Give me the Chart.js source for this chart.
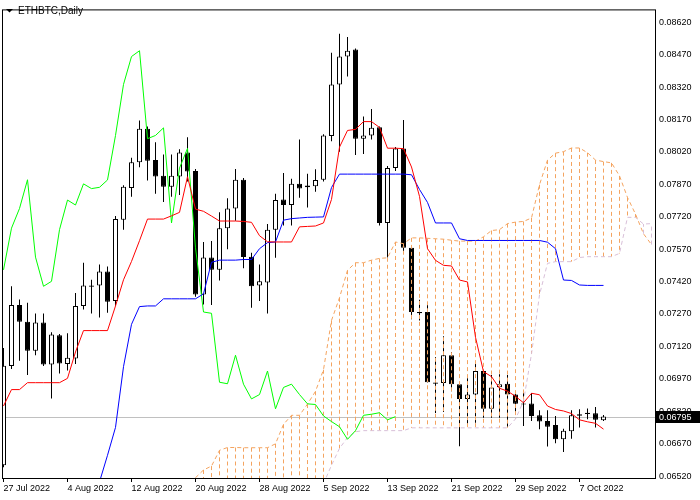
<!DOCTYPE html>
<html>
<head>
<meta charset="utf-8">
<title>ETHBTC, Daily</title>
<script src="https://cdn.jsdelivr.net/npm/chart.js@4.4.1/dist/chart.umd.min.js"></script>
<style>
  html, body { margin: 0; padding: 0; background: #ffffff; }
</style>
</head>
<body>
<canvas id="chart" width="700" height="500"></canvas>
<script>
// Time axis labels, one every 8 daily bars starting at bar 0 (27 Jul 2022)
const dateTicks = ["27 Jul 2022", "4 Aug 2022", "12 Aug 2022", "20 Aug 2022", "28 Aug 2022",
  "5 Sep 2022", "13 Sep 2022", "21 Sep 2022", "29 Sep 2022", "7 Oct 2022"];
const priceTicks = [0.08620, 0.08470, 0.08320, 0.08170, 0.08020, 0.07870, 0.07720, 0.07570,
  0.07420, 0.07270, 0.07120, 0.06970, 0.06820, 0.06670, 0.06520];

// Daily candles, 27 Jul 2022 .. 10 Oct 2022
const opens = [0.06570, 0.07029, 0.07311, 0.07234, 0.07100, 0.07231, 0.07036, 0.07172, 0.07038, 0.07064,
  0.07307, 0.07402, 0.07402, 0.07466, 0.07330, 0.07706, 0.07853, 0.07972, 0.08127, 0.07982,
  0.07909, 0.07858, 0.07906, 0.08017, 0.07932, 0.07360, 0.07531, 0.07474, 0.07667, 0.07758,
  0.07891, 0.07535, 0.07402, 0.07416, 0.07660, 0.07800, 0.07774, 0.07872, 0.07864, 0.07861,
  0.07891, 0.08093, 0.08332, 0.08461, 0.08494, 0.08081, 0.08096, 0.08134, 0.07691, 0.07945,
  0.08036, 0.07576, 0.07279, 0.07279, 0.06953, 0.06950, 0.07079, 0.06945, 0.06877, 0.06897,
  0.07006, 0.06831, 0.06931, 0.06947, 0.06897, 0.06856, 0.06856, 0.06801, 0.06775, 0.06756,
  0.06690, 0.06727, 0.06799, 0.06807, 0.06810, 0.06778];
const highs = [0.07112, 0.07398, 0.07337, 0.07322, 0.07272, 0.07272, 0.07185, 0.07177, 0.07181, 0.07367,
  0.07507, 0.07428, 0.07499, 0.07489, 0.07723, 0.07865, 0.07993, 0.08165, 0.08137, 0.08064,
  0.08008, 0.08008, 0.08032, 0.08088, 0.07941, 0.07603, 0.07607, 0.07740, 0.07805, 0.07941,
  0.07899, 0.07553, 0.07499, 0.07686, 0.07826, 0.07922, 0.07896, 0.08077, 0.07919, 0.07940,
  0.08101, 0.08479, 0.08567, 0.08552, 0.08498, 0.08184, 0.08218, 0.08137, 0.07955, 0.08043,
  0.08168, 0.07587, 0.07336, 0.07314, 0.07071, 0.07167, 0.07094, 0.06948, 0.06972, 0.07049,
  0.07012, 0.06988, 0.06991, 0.06988, 0.06912, 0.06904, 0.06904, 0.06824, 0.06824, 0.06798,
  0.06739, 0.06824, 0.06829, 0.06833, 0.06839, 0.06802];
const lows = [0.06561, 0.07015, 0.07053, 0.06988, 0.07079, 0.07029, 0.06879, 0.06995, 0.07008, 0.07038,
  0.07291, 0.07272, 0.07254, 0.07276, 0.07308, 0.07660, 0.07812, 0.07949, 0.07888, 0.07826,
  0.07788, 0.07812, 0.07820, 0.07883, 0.07349, 0.07314, 0.07311, 0.07425, 0.07569, 0.07701,
  0.07481, 0.07299, 0.07330, 0.07272, 0.07530, 0.07679, 0.07679, 0.07808, 0.07762, 0.07835,
  0.07883, 0.08069, 0.08020, 0.08369, 0.08005, 0.08010, 0.08077, 0.07679, 0.07531, 0.07932,
  0.07554, 0.07246, 0.07240, 0.06953, 0.06812, 0.06816, 0.06912, 0.06658, 0.06760, 0.06767,
  0.06790, 0.06790, 0.06790, 0.06748, 0.06806, 0.06752, 0.06775, 0.06737, 0.06657, 0.06672,
  0.06631, 0.06692, 0.06745, 0.06783, 0.06745, 0.06775];
const closes = [0.07030, 0.07311, 0.07234, 0.07100, 0.07231, 0.07036, 0.07175, 0.07041, 0.07067, 0.07307,
  0.07402, 0.07396, 0.07466, 0.07326, 0.07709, 0.07858, 0.07972, 0.08127, 0.07979, 0.07906,
  0.07858, 0.07909, 0.08017, 0.07929, 0.07360, 0.07531, 0.07474, 0.07667, 0.07758, 0.07891,
  0.07533, 0.07398, 0.07421, 0.07660, 0.07797, 0.07774, 0.07872, 0.07850, 0.07856, 0.07890,
  0.08096, 0.08332, 0.08461, 0.08488, 0.08081, 0.08096, 0.08131, 0.07691, 0.07945, 0.08036,
  0.07576, 0.07279, 0.07273, 0.06954, 0.06947, 0.07079, 0.06945, 0.06877, 0.06897, 0.07006,
  0.06831, 0.06930, 0.06945, 0.06897, 0.06854, 0.06851, 0.06798, 0.06772, 0.06748, 0.06690,
  0.06730, 0.06801, 0.06806, 0.06813, 0.06780, 0.06795];

// Ichimoku lines
// Tenkan-sen, bars 0..75
const tenkan = [0.06844, 0.06920, 0.06920, 0.06952, 0.06952, 0.06952, 0.06952, 0.06952, 0.06972, 0.07094,
  0.07193, 0.07193, 0.07193, 0.07193, 0.07307, 0.07428, 0.07513, 0.07609, 0.07709, 0.07709,
  0.07709, 0.07724, 0.07740, 0.07905, 0.07755, 0.07745, 0.07723, 0.07700, 0.07700, 0.07700,
  0.07698, 0.07694, 0.07632, 0.07604, 0.07603, 0.07603, 0.07603, 0.07673, 0.07675, 0.07677,
  0.07691, 0.07800, 0.08042, 0.08119, 0.08124, 0.08160, 0.08160, 0.08133, 0.08037, 0.08037,
  0.08035, 0.07950, 0.07814, 0.07572, 0.07518, 0.07495, 0.07492, 0.07427, 0.07418, 0.07162,
  0.07003, 0.06980, 0.06926, 0.06913, 0.06889, 0.06859, 0.06903, 0.06896, 0.06844, 0.06828,
  0.06821, 0.06809, 0.06780, 0.06771, 0.06764, 0.06737];
// Kijun-sen, bars 12..75 (earlier values are below the visible range)
const kijun = [0.06493, 0.06616, 0.06745, 0.07026, 0.07222, 0.07304, 0.07307, 0.07307,
  0.07340, 0.07340, 0.07340, 0.07340, 0.07340, 0.07363, 0.07509, 0.07519, 0.07519, 0.07519,
  0.07522, 0.07522, 0.07572, 0.07600, 0.07603, 0.07704, 0.07711, 0.07714, 0.07717, 0.07718,
  0.07719, 0.07855, 0.07917, 0.07917, 0.07917, 0.07917, 0.07917, 0.07917, 0.07917, 0.07917,
  0.07917, 0.07914, 0.07846, 0.07786, 0.07691, 0.07691, 0.07691, 0.07618, 0.07610, 0.07610,
  0.07610, 0.07610, 0.07610, 0.07610, 0.07610, 0.07610, 0.07610, 0.07610, 0.07602, 0.07572,
  0.07427, 0.07425, 0.07404, 0.07402, 0.07402, 0.07402];
// Chikou span, bars 0..49
const chikou = [0.07474, 0.07667, 0.07758, 0.07891, 0.07533, 0.07398, 0.07421, 0.07660, 0.07797, 0.07774,
  0.07872, 0.07850, 0.07856, 0.07890, 0.08096, 0.08332, 0.08461, 0.08488, 0.08081, 0.08096,
  0.08131, 0.07691, 0.07945, 0.08036, 0.07576, 0.07279, 0.07273, 0.06954, 0.06947, 0.07079,
  0.06945, 0.06877, 0.06897, 0.07006, 0.06831, 0.06930, 0.06945, 0.06897, 0.06854, 0.06851,
  0.06798, 0.06772, 0.06748, 0.06690, 0.06730, 0.06801, 0.06806, 0.06813, 0.06780, 0.06795];
// Senkou span A, bars 24..81
const senkouA = [0.06512, 0.06548, 0.06566, 0.06639, 0.06652, 0.06652, 0.06651, 0.06651, 0.06651, 0.06651,
  0.06669, 0.06759, 0.06801, 0.06801, 0.06853, 0.06912, 0.07012, 0.07240, 0.07345, 0.07472,
  0.07507, 0.07507, 0.07519, 0.07527, 0.07530, 0.07603, 0.07595, 0.07622, 0.07622, 0.07620,
  0.07618, 0.07616, 0.07611, 0.07607, 0.07607, 0.07607, 0.07627, 0.07656, 0.07660, 0.07688,
  0.07695, 0.07698, 0.07714, 0.07868, 0.07982, 0.08014, 0.08021, 0.08038, 0.08038, 0.08016,
  0.07982, 0.07975, 0.07969, 0.07909, 0.07809, 0.07732, 0.07641, 0.07591];
// Senkou span B, bars 40..81 (earlier values are below the visible range)
const senkouB = [0.06484, 0.06570, 0.06648, 0.06698, 0.06725, 0.06730, 0.06730, 0.06730, 0.06730, 0.06730,
  0.06730, 0.06743, 0.06743, 0.06743, 0.06743, 0.06743, 0.06743, 0.06743, 0.06743, 0.06743,
  0.06743, 0.06743, 0.06743, 0.06743, 0.06784, 0.06866, 0.07085, 0.07358, 0.07504, 0.07512,
  0.07512, 0.07512, 0.07531, 0.07535, 0.07535, 0.07535, 0.07535, 0.07550, 0.07717, 0.07717,
  0.07686, 0.07688];

const KIJUN_START = 12;
const SENKOU_A_START = 24;
const SENKOU_B_START = 40;
const DAYS_PER_LABEL = 8;

// Visible window of the chart
const Y_MIN = 0.065109;
const Y_MAX = 0.086792;
const X_MIN = -0.1875;
const X_MAX = 81.4375;

const lastPrice = closes[closes.length - 1];

function toPoints(values, first) {
  return values.map((v, k) => ({ x: first + k, y: v }));
}

// Vertical hatch lines of the cloud, split by which span is on top
function cloudHatch(aOnTop) {
  const pts = [];
  senkouA.forEach((a, k) => {
    const day = SENKOU_A_START + k;
    const bIdx = day - SENKOU_B_START;
    const hasB = bIdx >= 0;
    const b = hasB ? senkouB[bIdx] : Y_MIN;
    const top = !hasB || a >= b;
    if (top !== aOnTop) return;
    pts.push({ x: day, y: a }, { x: day, y: b }, { x: day, y: null });
  });
  return pts;
}

const FONT = "Liberation Sans";

// Frame, title, bid line and price marker
const decor = {
  id: "decor",
  beforeDatasetsDraw(chart) {
    const { ctx, chartArea: a, scales } = chart;
    const y = Math.round(scales.y.getPixelForValue(lastPrice)) + 0.5;
    ctx.save();
    ctx.strokeStyle = "#c0c0c0";
    ctx.lineWidth = 1;
    ctx.beginPath();
    ctx.moveTo(a.left, y);
    ctx.lineTo(a.right, y);
    ctx.stroke();
    ctx.restore();
  },
  afterDraw(chart) {
    const { ctx, chartArea: a, scales } = chart;
    ctx.save();
    ctx.strokeStyle = "#000";
    ctx.lineWidth = 1;
    ctx.strokeRect(a.left + 0.5, a.top + 0.5, a.right - a.left, a.bottom - a.top);

    // symbol title
    ctx.fillStyle = "#000";
    ctx.beginPath();
    ctx.moveTo(6, 9);
    ctx.lineTo(13, 9);
    ctx.lineTo(9.5, 12.5);
    ctx.closePath();
    ctx.fill();
    ctx.font = "10px '" + FONT + "'";
    ctx.textBaseline = "alphabetic";
    ctx.fillText("ETHBTC,Daily", 18, 14);

    // current price marker on the price scale
    const y = Math.round(scales.y.getPixelForValue(lastPrice));
    ctx.fillStyle = "#000";
    ctx.fillRect(a.right + 1, y - 6, chart.width - a.right - 1, 12);
    ctx.fillStyle = "#fff";
    ctx.font = "9px '" + FONT + "'";
    ctx.textBaseline = "middle";
    ctx.fillText(lastPrice.toFixed(5), a.right + 4, y + 0.5);
    ctx.restore();
  }
};

const lineBase = { type: "line", borderWidth: 1, pointRadius: 0, tension: 0, fill: false, spanGaps: false };

new Chart(document.getElementById("chart"), {
  type: "bar",
  data: {
    datasets: [
      { ...lineBase, label: "Tenkan-sen", data: toPoints(tenkan, 0), borderColor: "#ff0000", order: 1 },
      { ...lineBase, label: "Kijun-sen", data: toPoints(kijun, KIJUN_START), borderColor: "#0000ff", order: 2 },
      { ...lineBase, label: "Chikou Span", data: toPoints(chikou, 0), borderColor: "#00ff00", order: 3 },
      { ...lineBase, label: "Senkou Span A", data: toPoints(senkouA, SENKOU_A_START), borderColor: "#f4a460", borderDash: [4, 3], order: 4 },
      { ...lineBase, label: "Senkou Span B", data: toPoints(senkouB, SENKOU_B_START), borderColor: "#d8bfd8", borderDash: [4, 3], order: 5 },
      { ...lineBase, label: "Kumo A", data: cloudHatch(true), borderColor: "#f4a460", borderDash: [4, 3], order: 6 },
      { ...lineBase, label: "Kumo B", data: cloudHatch(false), borderColor: "#d8bfd8", borderDash: [4, 3], order: 7 },
      {
        type: "bar", label: "Body",
        data: opens.map((o, i) => ({ x: i, y: [o, closes[i]] })),
        backgroundColor: c => closes[c.dataIndex] >= opens[c.dataIndex] ? "#ffffff" : "#000000",
        borderColor: "#000000", borderWidth: 1, borderSkipped: false,
        barThickness: 5, grouped: false, inflateAmount: 0, minBarLength: 1, order: 8
      },
      {
        type: "bar", label: "Wick",
        data: lows.map((l, i) => ({ x: i, y: [l, highs[i]] })),
        backgroundColor: "#000000", borderWidth: 0,
        barThickness: 1, grouped: false, inflateAmount: 0, order: 9
      }
    ]
  },
  options: {
    responsive: false,
    animation: false,
    events: [],
    devicePixelRatio: 1,
    layout: { padding: { left: 2, top: 2, right: 0, bottom: 0 } },
    plugins: { legend: { display: false }, tooltip: { enabled: false }, title: { display: false } },
    scales: {
      x: {
        type: "linear",
        min: X_MIN,
        max: X_MAX,
        offset: false,
        border: { display: false },
        grid: { display: true, drawOnChartArea: false, drawTicks: true, tickLength: 4, color: "#000", offset: false },
        afterBuildTicks: s => { s.ticks = dateTicks.map((_, k) => ({ value: k * DAYS_PER_LABEL })); },
        afterFit: s => { s.height = 22; },
        ticks: {
          autoSkip: false, maxRotation: 0, minRotation: 0, align: "start", padding: 1,
          color: "#000", font: { family: FONT, size: 9 },
          callback: v => dateTicks[Math.round(v / DAYS_PER_LABEL)]
        }
      },
      y: {
        type: "linear",
        position: "right",
        min: Y_MIN,
        max: Y_MAX,
        border: { display: false },
        grid: { display: false, drawTicks: false },
        afterBuildTicks: s => { s.ticks = priceTicks.map(v => ({ value: v })); },
        afterFit: s => { s.width = 45; },
        ticks: {
          padding: 4, color: "#000", font: { family: FONT, size: 9 },
          callback: v => Number(v).toFixed(5)
        }
      }
    }
  },
  plugins: [decor]
});
</script>
</body>
</html>
